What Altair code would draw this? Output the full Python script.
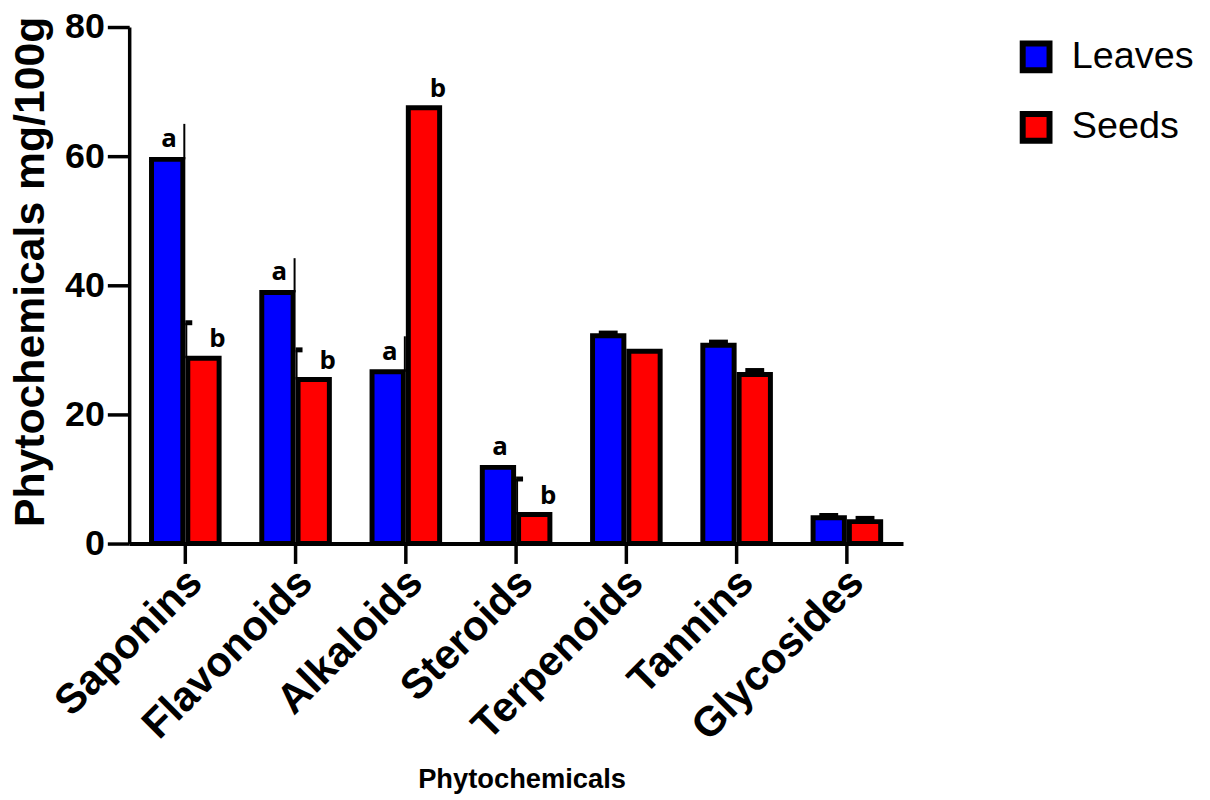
import altair as alt
import pandas as pd

categories = ["Saponins", "Flavonoids", "Alkaloids", "Steroids", "Terpenoids", "Tannins", "Glycosides"]
groups = ["Leaves", "Seeds"]
leaves = [59.5, 38.9, 26.6, 11.8, 32.2, 30.7, 4.0]
seeds = [28.7, 25.4, 67.5, 4.5, 29.8, 26.2, 3.4]
leaves_err = [5.5, 5.3, 5.5, 0.0, 0.4, 0.5, 0.35]
seeds_err = [5.5, 4.6, 0.0, 5.5, 0.0, 0.6, 0.5]
leaves_letters = ["a", "a", "a", "a", "", "", ""]
seeds_letters = ["b", "b", "b", "b", "", "", ""]
colors = ["#0000FF", "#FF0000"]

rows = []
for i, c in enumerate(categories):
    rows.append({"category": c, "group": "Leaves", "value": leaves[i], "err": leaves_err[i], "letter": leaves_letters[i]})
    rows.append({"category": c, "group": "Seeds", "value": seeds[i], "err": seeds_err[i], "letter": seeds_letters[i]})
df = pd.DataFrame(rows)

FONT = "Liberation Sans"

x_enc = alt.X(
    "category:N",
    sort=categories,
    scale=alt.Scale(paddingInner=0.387, paddingOuter=0.2025),
    axis=alt.Axis(
        title="Phytochemicals",
        titleFont=FONT, titleFontSize=27.5, titleFontWeight="bold", titleColor="black",
        titleX=395, titleY=246, titleAlign="center", titleBaseline="alphabetic",
        labelFont=FONT, labelFontSize=42, labelFontWeight="bold", labelColor="black",
        labelAngle=-45, labelAlign="right", labelBaseline="middle",
        labelPadding=12, labelOffset=10, labelLimit=1000,
        tickSize=20, tickWidth=3.5, tickColor="black",
        domainWidth=4, domainColor="black",
    ),
)
xo_enc = alt.XOffset("group:N", sort=groups, scale=alt.Scale(paddingInner=0.137, paddingOuter=0))
y_scale = alt.Scale(domain=[0, 80], nice=False, zero=True)
y_enc = alt.Y(
    "value:Q",
    scale=y_scale,
    axis=alt.Axis(
        title="Phytochemicals mg/100g",
        titleFont=FONT, titleFontSize=43, titleFontWeight="bold", titleColor="black",
        titleAngle=270, titleX=-86, titleY=246, titleAlign="center", titleBaseline="alphabetic",
        values=[0, 20, 40, 60, 80],
        labelFont=FONT, labelFontSize=36, labelFontWeight="bold", labelColor="black",
        labelPadding=3,
        tickSize=22, tickWidth=3.5, tickColor="black",
        domainWidth=3.5, domainColor="black", grid=False,
    ),
)

base = alt.Chart(df)
x_plain = alt.X("category:N", sort=categories)

bars = base.mark_bar(stroke="black", strokeWidth=5).encode(
    x=x_enc,
    xOffset=xo_enc,
    y=y_enc,
    color=alt.Color(
        "group:N",
        sort=groups,
        scale=alt.Scale(domain=groups, range=colors),
        legend=alt.Legend(
            title=None, orient="none", legendX=894, legendY=11,
            symbolType="square", symbolSize=729, symbolStrokeColor="black", symbolStrokeWidth=6,
            symbolOpacity=1,
            labelFont=FONT, labelFontSize=38, labelColor="black", labelOffset=17,
            rowPadding=19, padding=0,
        ),
    ),
)

labelled = "datum.letter != '' && datum.err > 0"

err_leaves = base.transform_filter(labelled + " && datum.group == 'Leaves'").transform_calculate(
    top="datum.value + datum.err"
).mark_rule(color="black", strokeWidth=2, xOffset=-1).encode(
    x=x_plain, y=alt.Y("value:Q"), y2="top:Q",
)
err_seeds = base.transform_filter(labelled + " && datum.group == 'Seeds'").transform_calculate(
    top="datum.value + datum.err"
).mark_rule(color="black", strokeWidth=2, xOffset=1).encode(
    x=x_plain, y=alt.Y("value:Q"), y2="top:Q",
)
err_seeds_cap = base.transform_filter(labelled + " && datum.group == 'Seeds'").transform_calculate(
    top="datum.value + datum.err"
).mark_tick(color="black", orient="horizontal", size=7, thickness=5, opacity=1, xOffset=3.5).encode(
    x=x_plain, y=alt.Y("top:Q"),
)

caps = base.transform_filter("datum.letter == '' && datum.err > 0").transform_calculate(
    top="datum.value + datum.err"
).mark_tick(color="black", orient="horizontal", size=19, thickness=5, opacity=1).encode(
    x=x_plain,
    xOffset=alt.XOffset("group:N", sort=groups),
    y=alt.Y("top:Q"),
)

lab_leaves = base.transform_filter("datum.letter != '' && datum.group == 'Leaves'").mark_text(
    font="Open Sans", fontWeight="bold", fontSize=26, baseline="alphabetic", dy=-12, dx=2, color="black"
).encode(
    x=x_plain,
    xOffset=alt.XOffset("group:N", sort=groups),
    y=alt.Y("value:Q"),
    text="letter:N",
)
lab_seeds = base.transform_filter("datum.letter != '' && datum.group == 'Seeds'").mark_text(
    font="Open Sans", fontWeight="bold", fontSize=26, baseline="alphabetic", dy=-11, dx=14, color="black"
).encode(
    x=x_plain,
    xOffset=alt.XOffset("group:N", sort=groups),
    y=alt.Y("value:Q"),
    text="letter:N",
)

chart = alt.layer(bars, err_leaves, err_seeds, err_seeds_cap, caps, lab_leaves, lab_seeds).properties(
    width=779,
    height=520,
    autosize=alt.AutoSizeParams(type="none"),
    padding={"left": 122, "top": 16.5, "right": 301, "bottom": 255.5},
    background="white",
).configure_view(stroke=None)

chart.save("out.html", embed_options={"renderer": "svg", "actions": False})
